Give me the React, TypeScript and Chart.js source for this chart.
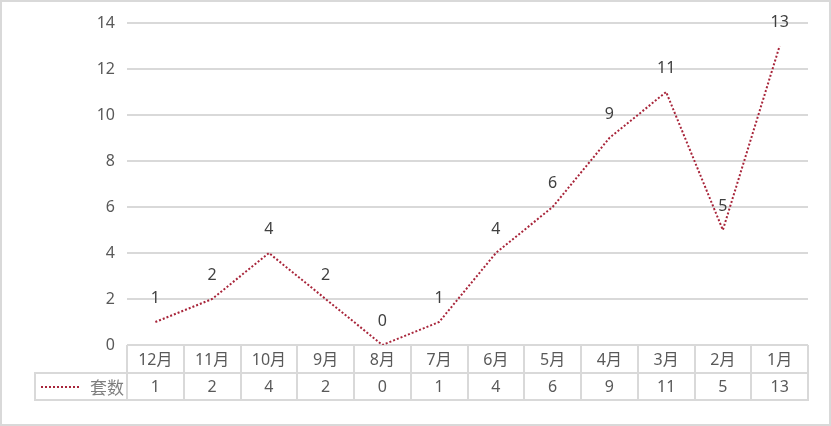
import React, { useRef, useEffect } from 'react';
import { Chart, registerables } from 'chart.js';

Chart.register(...registerables);

const months = ['12月', '11月', '10月', '9月', '8月', '7月', '6月', '5月', '4月', '3月', '2月', '1月'];
const counts = [1, 2, 4, 2, 0, 1, 4, 6, 9, 11, 5, 13];
const seriesName = '套数';
const yTicks = [0, 2, 4, 6, 8, 10, 12, 14];

const LINE_COLOR = '#A8253A';
const GRID = '#d9d9d9';
const FONT = '"Noto Sans", "Noto Sans CJK SC", sans-serif';

const App = () => {
    const chartRef = useRef<HTMLCanvasElement>(null);
    const chartInstance = useRef<Chart | null>(null);

    useEffect(() => {
        if (!chartRef.current) return;
        const ctx = chartRef.current.getContext('2d');
        if (!ctx) return;
        if (chartInstance.current) chartInstance.current.destroy();

        // outer frame + data table drawn under the plot
        const tablePlugin = {
            id: 'dataTable',
            beforeDraw(chart: Chart) {
                const c = chart.ctx;
                c.save();
                c.fillStyle = '#ffffff';
                c.fillRect(0, 0, chart.width, chart.height);
                c.strokeStyle = GRID;
                c.lineWidth = 2;
                c.strokeRect(1, 1, chart.width - 2, chart.height - 2);
                c.restore();
            },
            afterDraw(chart: Chart) {
                const c = chart.ctx;
                const area = chart.chartArea;
                const xs = chart.scales.x;
                const n = months.length;
                const colW = (area.right - area.left) / n;
                const top = area.bottom;
                const mid = top + 28;
                const bot = mid + 27;
                const legendLeft = 35;

                c.save();
                c.strokeStyle = GRID;
                c.lineWidth = 2;
                c.beginPath();
                c.moveTo(legendLeft - 1, mid);
                c.lineTo(area.right + 1, mid);
                c.moveTo(legendLeft - 1, bot);
                c.lineTo(area.right + 1, bot);
                for (let i = 0; i <= n; i++) {
                    const x = Math.round(area.left + i * colW);
                    c.moveTo(x, top);
                    c.lineTo(x, bot);
                }
                c.moveTo(legendLeft, mid);
                c.lineTo(legendLeft, bot);
                c.stroke();

                c.font = `16px ${FONT}`;
                c.fillStyle = '#595959';
                c.textAlign = 'center';
                c.textBaseline = 'middle';
                months.forEach((m, i) => {
                    const x = xs.getPixelForValue(i);
                    c.fillText(m, x, (top + mid) / 2 + 1);
                    c.fillText(String(counts[i]), x, (mid + bot) / 2 + 1);
                });

                // legend key
                c.strokeStyle = LINE_COLOR;
                c.lineWidth = 2;
                c.setLineDash([2, 2]);
                c.beginPath();
                c.moveTo(41, (mid + bot) / 2 + 0.5);
                c.lineTo(79, (mid + bot) / 2 + 0.5);
                c.stroke();
                c.setLineDash([]);
                c.fillStyle = '#7f7f7f';
                c.font = `17px "Noto Sans CJK SC", sans-serif`;
                c.textAlign = 'right';
                c.fillText(seriesName, area.left - 3, (mid + bot) / 2 + 1);

                // point labels
                const meta = chart.getDatasetMeta(0);
                c.font = `16px ${FONT}`;
                c.fillStyle = '#404040';
                c.textAlign = 'center';
                meta.data.forEach((pt, i) => {
                    c.fillText(String(counts[i]), pt.x, pt.y - 24);
                });
                c.restore();
            }
        };

        chartInstance.current = new Chart(ctx, {
            type: 'line',
            data: {
                labels: months,
                datasets: [{
                    label: seriesName,
                    data: counts,
                    borderColor: LINE_COLOR,
                    borderWidth: 2,
                    borderDash: [2, 2],
                    fill: false,
                    tension: 0,
                    pointRadius: 0
                }]
            },
            options: {
                responsive: true,
                maintainAspectRatio: false,
                animation: false,
                layout: { padding: { top: 23, right: 23, bottom: 81, left: 0 } },
                scales: {
                    x: {
                        type: 'category',
                        display: false,
                        offset: true
                    },
                    y: {
                        min: yTicks[0],
                        max: yTicks[yTicks.length - 1],
                        afterFit: (s: any) => { s.width = 127; },
                        afterBuildTicks: (s: any) => { s.ticks = yTicks.map(v => ({ value: v })); },
                        border: { display: false },
                        grid: { color: GRID, lineWidth: 2, drawTicks: false },
                        ticks: {
                            padding: 12,
                            color: '#595959',
                            font: { family: FONT, size: 16 }
                        }
                    }
                },
                plugins: {
                    legend: { display: false },
                    tooltip: { enabled: false }
                }
            },
            plugins: [tablePlugin]
        });

        return () => {
            if (chartInstance.current) {
                chartInstance.current.destroy();
                chartInstance.current = null;
            }
        };
    }, []);

    return (
        <div style={{ position: 'fixed', left: 0, top: 0, width: 831, height: 426 }}>
            <canvas ref={chartRef}></canvas>
        </div>
    );
};

export default App;
